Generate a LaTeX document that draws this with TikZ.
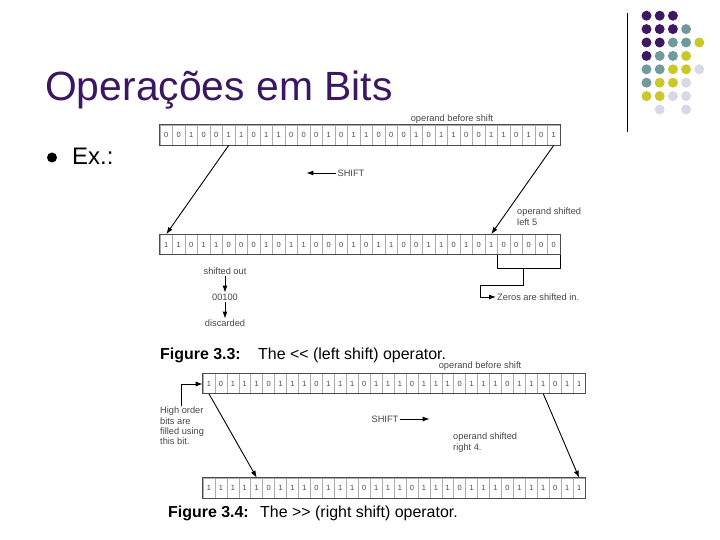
\documentclass[tikz,border=0pt]{standalone}
\usepackage{fontspec}
\setmainfont{Liberation Sans}
\usetikzlibrary{arrows.meta, positioning, fit}

\definecolor{titlepurple}{RGB}{60,22,98}
\definecolor{dotP}{RGB}{62,24,96}
\definecolor{dotT}{RGB}{112,154,155}
\definecolor{dotY}{RGB}{200,200,40}
\definecolor{dotL}{RGB}{216,216,232}
\definecolor{figtext}{RGB}{70,70,70}

\begin{document}
\begin{tikzpicture}[
  x=1bp, y=-1bp,
  arrow/.style={-{Latex[length=7bp,width=5bp]}, line width=0.9bp},
  bitcell/.style={draw=gray!65, fill=white, line width=0.6bp, minimum width=#1,
    minimum height=20bp, inner sep=0pt, text=figtext, font=\fontsize{7.5}{7.5}\selectfont},
  rowframe/.style={draw=black!70, line width=0.9bp, inner sep=0pt},
  small/.style={text=figtext, font=\fontsize{9.3}{10.2}\selectfont, inner sep=1bp, align=left},
  caption/.style={font=\fontsize{16}{18}\selectfont, inner sep=0pt, anchor=base west}
]
\useasboundingbox (0,0) rectangle (720,540);

% =========================
% Slide decoration
% =========================
\draw[line width=1bp] (627,13) -- (627,132);
\foreach \c/\r/\col in {0/0/dotP, 1/0/dotP, 2/0/dotP,
    0/1/dotP, 1/1/dotP, 2/1/dotP, 3/1/dotT,
    0/2/dotP, 1/2/dotP, 2/2/dotT, 3/2/dotT, 4/2/dotY,
    0/3/dotP, 1/3/dotT, 2/3/dotT, 3/3/dotY,
    0/4/dotT, 1/4/dotT, 2/4/dotY, 3/4/dotY, 4/4/dotL,
    0/5/dotT, 1/5/dotY, 2/5/dotY, 3/5/dotL,
    0/6/dotY, 1/6/dotY, 2/6/dotL, 3/6/dotL,
    1/7/dotL, 3/7/dotL}
  \fill[\col] ({646.5+13.2*\c},{15.7+13.4*\r}) circle (5bp);

% title and bullet
\node[anchor=base west, inner sep=0pt, text=titlepurple,
  font=\fontsize{41}{44}\selectfont] (title) at (45,101) {Operações em Bits};
\node[circle, fill=black, inner sep=0pt, minimum size=10bp] (bullet) at (52,157.5) {};
\node[anchor=base west, inner sep=0pt, font=\fontsize{24}{26}\selectfont] (ex) at (72,165) {Ex.:};

% =========================
% Figure 3.3 (left shift)
% =========================
\foreach \b [count=\i from 0] in {0,0,1,0,0,1,1,0,1,1,0,0,0,1,0,1,1,0,0,0,1,0,1,1,0,0,1,1,0,1,0,1}
  \node[bitcell=12.5bp] (a\i) at ({166.25+12.5*\i},135) {\b};
\node[rowframe, fit=(a0)(a31)] (rowA) {};

\foreach \b [count=\i from 0] in {1,1,0,1,1,0,0,0,1,0,1,1,0,0,0,1,0,1,1,0,0,1,1,0,1,0,1,0,0,0,0,0}
  \node[bitcell=12.5bp] (b\i) at ({166.25+12.5*\i},244.5) {\b};
\node[rowframe, fit=(b0)(b31)] (rowB) {};

\node[small] (beforeA) at (452,119) {operand before shift};

\draw[arrow] (a5.south) -- (b0.north);
\draw[arrow] (a31.south) -- (b26.north);

\node[small] (shiftA) at (351,173) {SHIFT};
\coordinate[left=30bp of shiftA.west] (shiftAtip);
\draw[arrow] (shiftA.west) -- (shiftAtip);

\node[small, anchor=north west] (shiftedleft) at (516,207) {operand shifted\\left 5};

% shifted out bits
\node[small] (out) at (225,271) {shifted out};
\node[small, below=17bp of out] (outbits) {00100};
\node[small, below=17bp of outbits] (discard) {discarded};
\draw[arrow] (out) -- (outbits);
\draw[arrow] (outbits) -- (discard);

% zeros bracket
\coordinate (zmid) at (523,268);
\coordinate (zcorner) at (480,285);
\node[small, anchor=west] (zeros) at (496,297) {Zeros are shifted in.};
\draw[line width=0.9bp] (b27.south west) -- (b27.south west |- zmid)
  -- (b31.south east |- zmid) -- (b31.south east);
\draw[arrow] (zmid) |- (zcorner) |- (zeros.west);

\node[caption] (capA) at (160,359) {\textbf{Figure 3.3:}};
\node[caption] (capAtext) at (258,359) {The <\kern0pt< (left shift) operator.};

% =========================
% Figure 3.4 (right shift)
% =========================
\foreach \b [count=\i from 0] in {1,0,1,1,1,0,1,1,1,0,1,1,1,0,1,1,1,0,1,1,1,0,1,1,1,0,1,1,1,0,1,1}
  \node[bitcell=11.94bp] (c\i) at ({208.97+11.94*\i},383.5) {\b};
\node[rowframe, fit=(c0)(c31)] (rowC) {};

\foreach \b [count=\i from 0] in {1,1,1,1,1,0,1,1,1,0,1,1,1,0,1,1,1,0,1,1,1,0,1,1,1,0,1,1,1,0,1,1}
  \node[bitcell=11.94bp] (d\i) at ({208.97+11.94*\i},488) {\b};
\node[rowframe, fit=(d0)(d31)] (rowD) {};

\node[small] (beforeC) at (480,366) {operand before shift};

\node[small, anchor=north west] (highorder) at (159,406) {High order\\bits are\\filled using\\this bit.};
\coordinate (hicorner) at (181,384);
\draw[arrow] (hicorner |- highorder.north) -- (hicorner) -- (c0.west |- hicorner);

\draw[arrow] (c0.south) -- (d4.north);
\draw[arrow] (c28.south) -- (d31.north);

\node[small] (shiftC) at (385,419) {SHIFT};
\coordinate[right=30bp of shiftC.east] (shiftCtip);
\draw[arrow] (shiftC.east) -- (shiftCtip);

\node[small, anchor=north west] (shiftedright) at (452,432) {operand shifted\\right 4.};

\node[caption] (capB) at (168,517) {\textbf{Figure 3.4:}};
\node[caption] (capBtext) at (260,517) {The >\kern0pt> (right shift) operator.};

\end{tikzpicture}
\end{document}
